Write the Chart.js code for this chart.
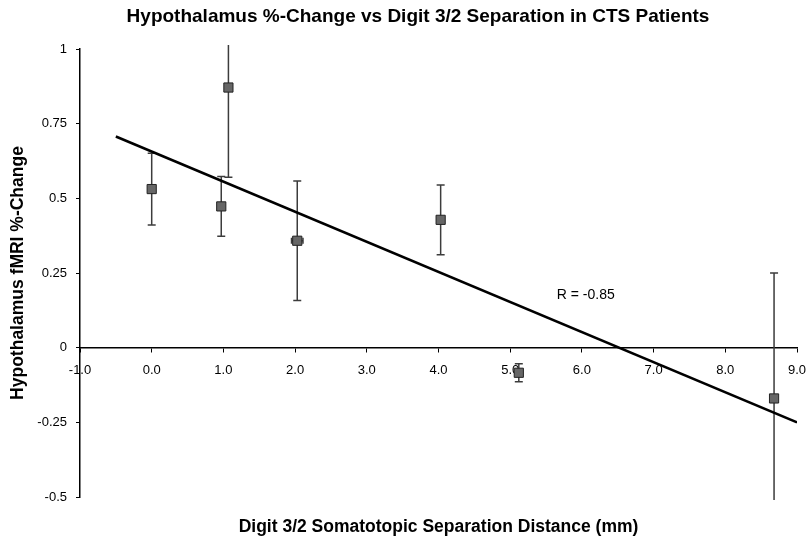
<!DOCTYPE html>
<html>
<head>
<meta charset="utf-8">
<script src="https://cdn.jsdelivr.net/npm/chart.js@4/dist/chart.umd.min.js"></script>
<style>
html, body { margin: 0; padding: 0; background: #fff; }
</style>
</head>
<body>
<canvas id="myChart" width="808" height="541"></canvas>
<script>
// values
var xValues = [0.0, 0.97, 1.07, 2.03, 4.03, 5.12, 8.68];
var yValues = [0.531, 0.473, 0.871, 0.358, 0.428, -0.084, -0.17];
var yErrors = [0.12, 0.10, 0.30, 0.20, 0.117, 0.03, 0.42];
var xErrors = [0, 0, 0, 0.08, 0, 0, 0];
var trendX = [-0.5, 9.0];
var trendY = [0.707, -0.25];
var xTicks = ["-1.0", "0.0", "1.0", "2.0", "3.0", "4.0", "5.0", "6.0", "7.0", "8.0", "9.0"];
var yTicks = ["-0.5", "-0.25", "0", "0.25", "0.5", "0.75", "1"];
var rText = "R = -0.85";
var rAt = [5.65, 0.177];
var titleText = "Hypothalamus %-Change vs Digit 3/2 Separation in CTS Patients";

var FONT = "'Liberation Sans', Arial, sans-serif";

var points = xValues.map(function (x, i) { return { x: x, y: yValues[i] }; });
var trend = trendX.map(function (x, i) { return { x: x, y: trendY[i] }; });

var extras = {
    id: "extras",
    beforeDatasetsDraw: function (chart) {
        // error bars, under the markers
        var ctx = chart.ctx, xs = chart.scales.x, ys = chart.scales.y, a = chart.chartArea;
        ctx.save();
        ctx.beginPath();
        ctx.rect(a.left, a.top - 4, a.right - a.left + 2, a.bottom - a.top + 7);
        ctx.clip();
        ctx.strokeStyle = "#3c3c3c";
        ctx.lineWidth = 1.5;
        for (var i = 0; i < xValues.length; i++) {
            var px = xs.getPixelForValue(xValues[i]);
            var py = ys.getPixelForValue(yValues[i]);
            var top = ys.getPixelForValue(yValues[i] + yErrors[i]);
            var bot = ys.getPixelForValue(yValues[i] - yErrors[i]);
            ctx.beginPath();
            ctx.moveTo(px, top); ctx.lineTo(px, bot);
            ctx.moveTo(px - 4, top); ctx.lineTo(px + 4, top);
            ctx.moveTo(px - 4, bot); ctx.lineTo(px + 4, bot);
            if (xErrors[i] > 0) {
                var l = xs.getPixelForValue(xValues[i] - xErrors[i]);
                var r = xs.getPixelForValue(xValues[i] + xErrors[i]);
                ctx.moveTo(l, py); ctx.lineTo(r, py);
                ctx.moveTo(l, py - 3); ctx.lineTo(l, py + 3);
                ctx.moveTo(r, py - 3); ctx.lineTo(r, py + 3);
            }
            ctx.stroke();
        }
        ctx.restore();
    },
    afterDatasetsDraw: function (chart) {
        var ctx = chart.ctx;
        ctx.save();
        ctx.fillStyle = "#000";
        ctx.font = "14px " + FONT;
        ctx.textAlign = "left";
        ctx.textBaseline = "middle";
        ctx.fillText(rText, chart.scales.x.getPixelForValue(rAt[0]), chart.scales.y.getPixelForValue(rAt[1]));
        // chart title
        ctx.font = "bold 19px " + FONT;
        ctx.textAlign = "center";
        ctx.fillText(titleText, 418, 17);
        ctx.restore();
    }
};

var ctx = document.getElementById("myChart").getContext("2d");
var myChart = new Chart(ctx, {
    type: "scatter",
    data: {
        datasets: [{
            data: points,
            pointStyle: "rect",
            pointRadius: 6.5,
            backgroundColor: "#666666",
            borderColor: "#222222",
            borderWidth: 1
        }, {
            type: "line",
            data: trend,
            showLine: true,
            pointRadius: 0,
            borderColor: "#000",
            borderWidth: 2.5,
            fill: false
        }]
    },
    plugins: [extras],
    options: {
        responsive: false,
        animation: false,
        layout: { padding: { left: 0, right: 11, top: 49, bottom: 0 } },
        plugins: {
            legend: { display: false },
            tooltip: { enabled: false },
            title: { display: false }
        },
        scales: {
            x: {
                type: "linear",
                min: -1, max: 9,
                position: { y: 0 },
                ticks: {
                    stepSize: 1, padding: 11, color: "#000", maxRotation: 0, autoSkip: false,
                    font: { family: FONT, size: 13 },
                    callback: function (v) { return xTicks[Math.round(v + 1)]; }
                },
                grid: { drawOnChartArea: false, tickLength: 4, color: "#000", lineWidth: 1 },
                border: { color: "#000", width: 1.5 },
                afterFit: function (s) { s.paddingLeft = 0; s.paddingRight = 0; }
            },
            x2: {
                type: "linear",
                min: -1, max: 9,
                position: "bottom",
                ticks: { display: false },
                grid: { display: false, drawTicks: false },
                border: { display: false },
                title: {
                    display: true,
                    text: "Digit 3/2 Somatotopic Separation Distance (mm)",
                    color: "#000",
                    font: { family: FONT, size: 17.5, weight: "bold" },
                    padding: { top: 0, bottom: 3 }
                },
                afterFit: function (s) { s.height = 44; s.paddingLeft = 0; s.paddingRight = 0; }
            },
            y: {
                type: "linear",
                min: -0.5, max: 1,
                position: "left",
                ticks: {
                    stepSize: 0.25, padding: 9, color: "#000",
                    font: { family: FONT, size: 13 },
                    callback: function (v) { return yTicks[Math.round((v + 0.5) / 0.25)]; }
                },
                grid: { drawOnChartArea: false, tickLength: 4, color: "#000", lineWidth: 1 },
                border: { color: "#000", width: 1.5 },
                title: {
                    display: true,
                    text: "Hypothalamus fMRI %-Change",
                    color: "#000",
                    font: { family: FONT, size: 17.5, weight: "bold" },
                    padding: { top: 8, bottom: 0 }
                },
                afterFit: function (s) { s.width = 80; }
            }
        }
    }
});
</script>
</body>
</html>
